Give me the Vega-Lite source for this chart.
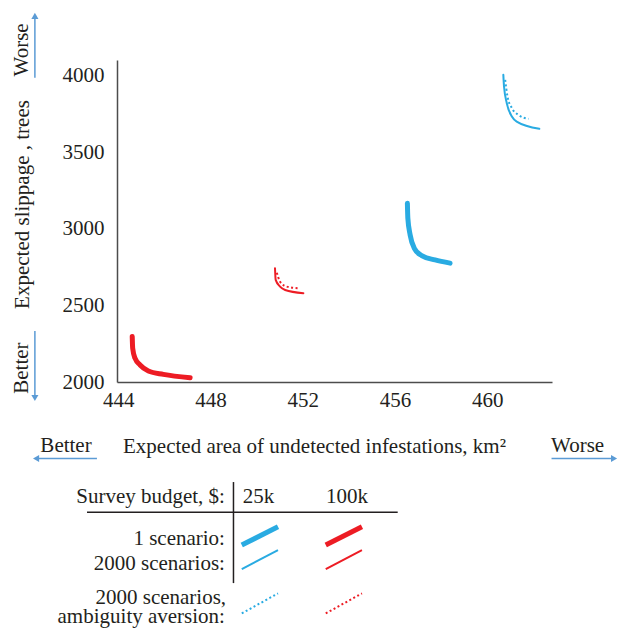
{
  "$schema": "https://vega.github.io/schema/vega-lite/v6.json",
  "width": 435,
  "height": 322,
  "autosize": {"type": "none"},
  "padding": {"left": 117, "top": 60, "right": 67, "bottom": 248},
  "background": "white",
  "config": {
    "view": {"stroke": null},
    "font": "Liberation Serif",
    "axis": {
      "labelFont": "Liberation Serif", "labelFontSize": 21, "labelColor": "#231f20",
      "titleFont": "Liberation Serif", "titleFontSize": 21, "titleFontWeight": "normal", "titleColor": "#231f20",
      "domainColor": "#4d4d4d", "domainWidth": 1.5, "ticks": false, "tickSize": 0, "grid": false
    },
    "text": {"font": "Liberation Serif", "fontSize": 21, "color": "#231f20"}
  },
  "data": {"values": [
    {"budget": "100k", "scenarios": "1 scenario", "order": 1, "x": 444.61, "y": 2296},
    {"budget": "100k", "scenarios": "1 scenario", "order": 2, "x": 444.63, "y": 2220},
    {"budget": "100k", "scenarios": "1 scenario", "order": 3, "x": 444.73, "y": 2155},
    {"budget": "100k", "scenarios": "1 scenario", "order": 4, "x": 444.95, "y": 2111},
    {"budget": "100k", "scenarios": "1 scenario", "order": 5, "x": 445.31, "y": 2072},
    {"budget": "100k", "scenarios": "1 scenario", "order": 6, "x": 445.96, "y": 2050},
    {"budget": "100k", "scenarios": "1 scenario", "order": 7, "x": 447.12, "y": 2028},
    {"budget": "100k", "scenarios": "2000 scenarios", "order": 1, "x": 450.8, "y": 2742},
    {"budget": "100k", "scenarios": "2000 scenarios", "order": 2, "x": 450.83, "y": 2666},
    {"budget": "100k", "scenarios": "2000 scenarios", "order": 3, "x": 451.02, "y": 2622},
    {"budget": "100k", "scenarios": "2000 scenarios", "order": 4, "x": 451.24, "y": 2600},
    {"budget": "100k", "scenarios": "2000 scenarios", "order": 5, "x": 452.03, "y": 2579},
    {"budget": "100k", "scenarios": "2000 scenarios, ambiguity aversion", "order": 1, "x": 450.88, "y": 2713},
    {"budget": "100k", "scenarios": "2000 scenarios, ambiguity aversion", "order": 2, "x": 451.02, "y": 2654},
    {"budget": "100k", "scenarios": "2000 scenarios, ambiguity aversion", "order": 3, "x": 451.31, "y": 2622},
    {"budget": "100k", "scenarios": "2000 scenarios, ambiguity aversion", "order": 4, "x": 451.86, "y": 2611},
    {"budget": "25k", "scenarios": "1 scenario", "order": 1, "x": 456.54, "y": 3166},
    {"budget": "25k", "scenarios": "1 scenario", "order": 2, "x": 456.56, "y": 3068},
    {"budget": "25k", "scenarios": "1 scenario", "order": 3, "x": 456.66, "y": 2959},
    {"budget": "25k", "scenarios": "1 scenario", "order": 4, "x": 456.84, "y": 2872},
    {"budget": "25k", "scenarios": "1 scenario", "order": 5, "x": 457.16, "y": 2824},
    {"budget": "25k", "scenarios": "1 scenario", "order": 6, "x": 457.74, "y": 2796},
    {"budget": "25k", "scenarios": "1 scenario", "order": 7, "x": 458.39, "y": 2775},
    {"budget": "25k", "scenarios": "2000 scenarios", "order": 1, "x": 460.7, "y": 4003},
    {"budget": "25k", "scenarios": "2000 scenarios", "order": 2, "x": 460.73, "y": 3927},
    {"budget": "25k", "scenarios": "2000 scenarios", "order": 3, "x": 460.85, "y": 3818},
    {"budget": "25k", "scenarios": "2000 scenarios", "order": 4, "x": 461.07, "y": 3731},
    {"budget": "25k", "scenarios": "2000 scenarios", "order": 5, "x": 461.28, "y": 3698},
    {"budget": "25k", "scenarios": "2000 scenarios", "order": 6, "x": 462.26, "y": 3651},
    {"budget": "25k", "scenarios": "2000 scenarios, ambiguity aversion", "order": 1, "x": 460.78, "y": 3971},
    {"budget": "25k", "scenarios": "2000 scenarios, ambiguity aversion", "order": 2, "x": 460.88, "y": 3862},
    {"budget": "25k", "scenarios": "2000 scenarios, ambiguity aversion", "order": 3, "x": 461.07, "y": 3786},
    {"budget": "25k", "scenarios": "2000 scenarios, ambiguity aversion", "order": 4, "x": 461.35, "y": 3742},
    {"budget": "25k", "scenarios": "2000 scenarios, ambiguity aversion", "order": 5, "x": 461.79, "y": 3716}
  ]},
  "layer": [
    {
      "transform": [{"filter": "datum.scenarios !== '2000 scenarios, ambiguity aversion'"}],
      "mark": {"type": "line", "interpolate": "monotone", "strokeCap": "round", "strokeJoin": "round"},
      "encoding": {
        "x": {"field": "x", "type": "quantitative",
              "scale": {"domain": [443.95, 462.81], "nice": false, "zero": false},
              "axis": {"values": [444, 448, 452, 456, 460], "format": "d", "labelPadding": 24, "labelBaseline": "alphabetic",
                       "labelFont": "Liberation Serif", "titleFont": "Liberation Serif",
                       "title": "Expected area of undetected infestations, km²",
                       "titleX": 197, "titleY": 70, "titleAlign": "center", "titleBaseline": "alphabetic"}},
        "y": {"field": "y", "type": "quantitative",
              "scale": {"domain": [2000, 4100], "nice": false, "zero": false},
              "axis": {"values": [2000, 2500, 3000, 3500, 4000], "format": "d", "labelPadding": 13,
                       "labelFont": "Liberation Serif", "titleFont": "Liberation Serif",
                       "title": "Expected slippage , trees",
                       "titleX": -89, "titleY": 144, "titleAngle": 270, "titleAlign": "center", "titleBaseline": "alphabetic"}},
        "color": {"field": "budget", "type": "nominal",
                  "scale": {"domain": ["25k", "100k"], "range": ["#29abe2", "#ed1c24"]}, "legend": null},
        "strokeWidth": {"field": "scenarios", "type": "ordinal",
                        "scale": {"domain": ["1 scenario", "2000 scenarios"], "range": [5, 2]}, "legend": null},
        "order": {"field": "order", "type": "quantitative"}
      }
    },
    {
      "transform": [{"filter": "datum.scenarios === '2000 scenarios, ambiguity aversion'"}],
      "mark": {"type": "line", "interpolate": "monotone", "strokeWidth": 2, "strokeDash": [2, 2.5], "strokeCap": "butt"},
      "encoding": {
        "x": {"field": "x", "type": "quantitative"},
        "y": {"field": "y", "type": "quantitative"},
        "color": {"field": "budget", "type": "nominal", "legend": null},
        "order": {"field": "order", "type": "quantitative"}
      }
    },
    {"data": {"values": [{}]}, "mark": {"type": "text", "font": "Liberation Serif", "fontSize": 21, "angle": 270, "align": "center", "baseline": "alphabetic"},
     "encoding": {"x": {"datum": 440.09}, "y": {"datum": 4166}, "text": {"value": "Worse"}}},
    {"data": {"values": [{}]}, "mark": {"type": "text", "font": "Liberation Serif", "fontSize": 21, "angle": 270, "align": "center", "baseline": "alphabetic"},
     "encoding": {"x": {"datum": 440.09}, "y": {"datum": 2091}, "text": {"value": "Better"}}},
    {"data": {"values": [{}]}, "mark": {"type": "text", "font": "Liberation Serif", "fontSize": 21, "align": "center", "baseline": "alphabetic"},
     "encoding": {"x": {"datum": 441.74}, "y": {"datum": 1543}, "text": {"value": "Better"}}},
    {"data": {"values": [{}]}, "mark": {"type": "text", "font": "Liberation Serif", "fontSize": 21, "align": "center", "baseline": "alphabetic"},
     "encoding": {"x": {"datum": 463.92}, "y": {"datum": 1543}, "text": {"value": "Worse"}}},
    {"data": {"values": [{}]}, "mark": {"type": "rule", "color": "#5b9bd5", "strokeWidth": 1.5},
     "encoding": {"x": {"datum": 440.39}, "y": {"datum": 3984}, "y2": {"datum": 4388}}},
    {"data": {"values": [{}]}, "mark": {"type": "point", "shape": "triangle-up", "filled": true, "color": "#5b9bd5", "size": 50, "opacity": 1},
     "encoding": {"x": {"datum": 440.39}, "y": {"datum": 4388}}},
    {"data": {"values": [{}]}, "mark": {"type": "rule", "color": "#5b9bd5", "strokeWidth": 1.5},
     "encoding": {"x": {"datum": 440.39}, "y": {"datum": 2333}, "y2": {"datum": 1896}}},
    {"data": {"values": [{}]}, "mark": {"type": "point", "shape": "triangle-down", "filled": true, "color": "#5b9bd5", "size": 50, "opacity": 1},
     "encoding": {"x": {"datum": 440.39}, "y": {"datum": 1896}}},
    {"data": {"values": [{}]}, "mark": {"type": "rule", "color": "#5b9bd5", "strokeWidth": 1.5},
     "encoding": {"x": {"datum": 443.08}, "x2": {"datum": 440.44}, "y": {"datum": 1501}}},
    {"data": {"values": [{}]}, "mark": {"type": "point", "shape": "triangle-left", "filled": true, "color": "#5b9bd5", "size": 50, "opacity": 1},
     "encoding": {"x": {"datum": 440.44}, "y": {"datum": 1501}}},
    {"data": {"values": [{}]}, "mark": {"type": "rule", "color": "#5b9bd5", "strokeWidth": 1.5},
     "encoding": {"x": {"datum": 462.79}, "x2": {"datum": 465.5}, "y": {"datum": 1501}}},
    {"data": {"values": [{}]}, "mark": {"type": "point", "shape": "triangle-right", "filled": true, "color": "#5b9bd5", "size": 50, "opacity": 1},
     "encoding": {"x": {"datum": 465.5}, "y": {"datum": 1501}}},
    {"data": {"values": [{}]}, "mark": {"type": "text", "font": "Liberation Serif", "fontSize": 21, "align": "right", "baseline": "alphabetic"},
     "encoding": {"x": {"datum": 448.63}, "y": {"datum": 1208.5}, "text": {"value": "Survey budget, $:"}}},
    {"data": {"values": [{}]}, "mark": {"type": "text", "font": "Liberation Serif", "fontSize": 21, "align": "left", "baseline": "alphabetic"},
     "encoding": {"x": {"datum": 449.4}, "y": {"datum": 1208.5}, "text": {"value": "25k"}}},
    {"data": {"values": [{}]}, "mark": {"type": "text", "font": "Liberation Serif", "fontSize": 21, "align": "left", "baseline": "alphabetic"},
     "encoding": {"x": {"datum": 453.01}, "y": {"datum": 1208.5}, "text": {"value": "100k"}}},
    {"data": {"values": [{}]}, "mark": {"type": "text", "font": "Liberation Serif", "fontSize": 21, "align": "right", "baseline": "alphabetic"},
     "encoding": {"x": {"datum": 448.63}, "y": {"datum": 936.4}, "text": {"value": "1 scenario:"}}},
    {"data": {"values": [{}]}, "mark": {"type": "text", "font": "Liberation Serif", "fontSize": 21, "align": "right", "baseline": "alphabetic"},
     "encoding": {"x": {"datum": 448.63}, "y": {"datum": 773.3}, "text": {"value": "2000 scenarios:"}}},
    {"data": {"values": [{}]}, "mark": {"type": "text", "font": "Liberation Serif", "fontSize": 21, "align": "right", "baseline": "alphabetic"},
     "encoding": {"x": {"datum": 448.68}, "y": {"datum": 555}, "text": {"value": "2000 scenarios,"}}},
    {"data": {"values": [{}]}, "mark": {"type": "text", "font": "Liberation Serif", "fontSize": 21, "align": "right", "baseline": "alphabetic"},
     "encoding": {"x": {"datum": 448.63}, "y": {"datum": 427.5}, "text": {"value": "ambiguity aversion:"}}},
    {"data": {"values": [{}]}, "mark": {"type": "rule", "color": "#231f20", "strokeWidth": 1.5},
     "encoding": {"x": {"datum": 449.0}, "y": {"datum": 1347.5}, "y2": {"datum": 688.5}}},
    {"data": {"values": [{}]}, "mark": {"type": "rule", "color": "#231f20", "strokeWidth": 1.5},
     "encoding": {"x": {"datum": 442.65}, "x2": {"datum": 456.12}, "y": {"datum": 1149.8}}},
    {"data": {"values": [{}]}, "mark": {"type": "rule", "color": "#29abe2", "strokeWidth": 5},
     "encoding": {"x": {"datum": 449.36}, "x2": {"datum": 450.93}, "y": {"datum": 936.4}, "y2": {"datum": 1055.8}}},
    {"data": {"values": [{}]}, "mark": {"type": "rule", "color": "#ed1c24", "strokeWidth": 5},
     "encoding": {"x": {"datum": 453.0}, "x2": {"datum": 454.57}, "y": {"datum": 936.4}, "y2": {"datum": 1055.8}}},
    {"data": {"values": [{}]}, "mark": {"type": "rule", "color": "#29abe2", "strokeWidth": 2},
     "encoding": {"x": {"datum": 449.36}, "x2": {"datum": 450.93}, "y": {"datum": 779.8}, "y2": {"datum": 903.8}}},
    {"data": {"values": [{}]}, "mark": {"type": "rule", "color": "#ed1c24", "strokeWidth": 2},
     "encoding": {"x": {"datum": 453.0}, "x2": {"datum": 454.57}, "y": {"datum": 779.8}, "y2": {"datum": 903.8}}},
    {"data": {"values": [{}]}, "mark": {"type": "rule", "color": "#29abe2", "strokeWidth": 2, "strokeDash": [2, 2.5]},
     "encoding": {"x": {"datum": 449.36}, "x2": {"datum": 450.93}, "y": {"datum": 490.8}, "y2": {"datum": 621.3}}},
    {"data": {"values": [{}]}, "mark": {"type": "rule", "color": "#ed1c24", "strokeWidth": 2, "strokeDash": [2, 2.5]},
     "encoding": {"x": {"datum": 453.0}, "x2": {"datum": 454.57}, "y": {"datum": 490.8}, "y2": {"datum": 621.3}}}
  ]
}
